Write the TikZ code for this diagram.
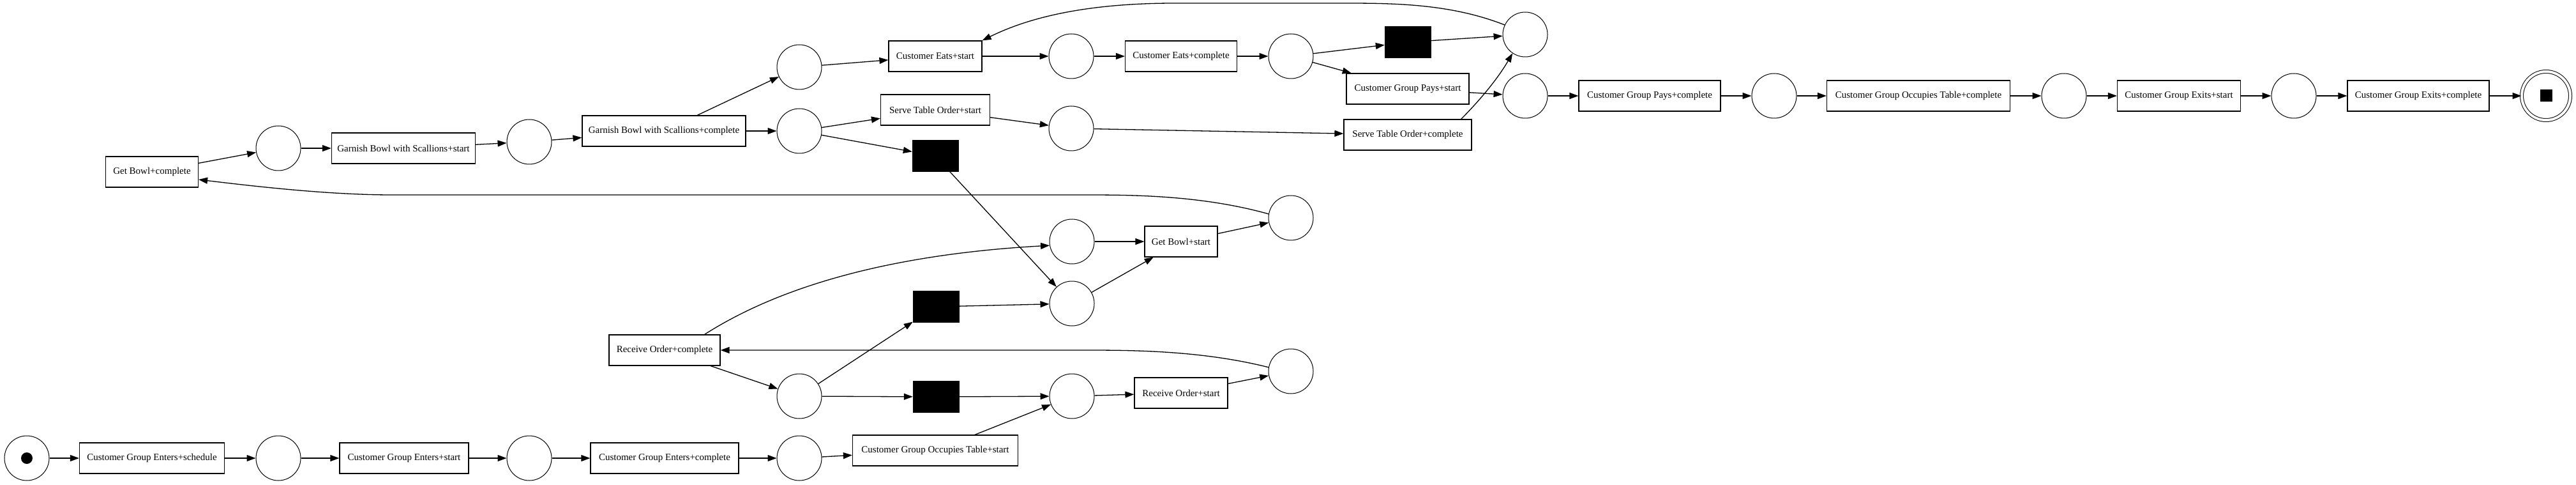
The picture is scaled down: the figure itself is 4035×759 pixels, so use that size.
\documentclass[tikz,border=0pt]{standalone}
\usepackage{fontspec}
\setmainfont{Liberation Serif}
\usetikzlibrary{arrows.meta,calc}
\begin{document}
\begin{tikzpicture}[x=1pt,y=-1pt]
\tikzset{
  place/.style={circle, draw, line width=1pt, minimum size=70pt, inner sep=0pt},
  trans/.style={rectangle, draw, line width=1.2pt, minimum height=48pt, inner sep=0pt, font=\fontsize{15}{18}\selectfont},
  tau/.style={rectangle, fill=black, draw=black, minimum width=72pt, minimum height=49pt, inner sep=0pt},
  arc/.style={-{Triangle[length=14pt,width=10pt]}, line width=1.3pt},
}
\fill[white] (0,0) rectangle (4035,759);
\useasboundingbox (0,0) rectangle (4035,759);

\node[place] (p0) at (42,717) {};
\node[trans, minimum width=227pt] (cges) at (238,717) {Customer Group Enters+schedule};
\node[place] (p1) at (436,717) {};
\node[trans, minimum width=202pt] (cgest) at (633,717) {Customer Group Enters+start};
\node[place] (p2) at (829,717) {};
\node[trans, minimum width=232pt] (cgec) at (1041,717) {Customer Group Enters+complete};
\node[place] (p3) at (1252,717) {};
\node[trans, minimum width=259pt] (cgots) at (1465,705) {Customer Group Occupies Table+start};
\node[place] (p4) at (1679,620) {};
\node[trans, minimum width=146pt] (ros) at (1850,615) {Receive Order+start};
\node[place] (p5) at (2022,581) {};
\node[trans, minimum width=174pt] (roc) at (1041,548) {Receive Order+complete};
\node[place] (p6) at (1252,620) {};
\node[tau] (t1) at (1466,621) {};
\node[tau] (t2) at (1466,480) {};
\node[place] (p7) at (1679,475) {};
\node[place] (p8) at (1679,378) {};
\node[trans, minimum width=114pt] (gbs) at (1850,378) {Get Bowl+start};
\node[place] (p9) at (2022,341) {};
\node[trans, minimum width=145pt] (gbc) at (238,269) {Get Bowl+complete};
\node[place] (p10) at (436,232) {};
\node[trans, minimum width=225pt] (gas) at (632,232) {Garnish Bowl with Scallions+start};
\node[place] (p11) at (829,222) {};
\node[trans, minimum width=256pt] (gac) at (1040,205) {Garnish Bowl with Scallions+complete};
\node[place] (p12) at (1252,205) {};
\node[place] (p13) at (1252,105) {};
\node[trans, minimum width=171pt] (stos) at (1465,172) {Serve Table Order+start};
\node[tau] (t3) at (1465,244) {};
\node[place] (p14) at (1678,201) {};
\node[trans, minimum width=200pt] (stoc) at (2205,211) {Serve Table Order+complete};
\node[trans, minimum width=146pt] (ces) at (1465,88) {Customer Eats+start};
\node[place] (p15) at (1678,88) {};
\node[trans, minimum width=175pt] (cec) at (1850,88) {Customer Eats+complete};
\node[place] (p16) at (2022,88) {};
\node[tau] (t4) at (2205,66) {};
\node[trans, minimum width=192pt] (cgps) at (2205,139) {Customer Group Pays+start};
\node[place] (p17) at (2389,54) {};
\node[place] (p18) at (2389,150) {};
\node[trans, minimum width=222pt] (cgpc) at (2584,150) {Customer Group Pays+complete};
\node[place] (p19) at (2779,150) {};
\node[trans, minimum width=287pt] (cgotc) at (3005,150) {Customer Group Occupies Table+complete};
\node[place] (p20) at (3233,150) {};
\node[trans, minimum width=193pt] (cgxs) at (3413,150) {Customer Group Exits+start};
\node[place] (p21) at (3593,150) {};
\node[trans, minimum width=222pt] (cgxc) at (3788,150) {Customer Group Exits+complete};
\node[place, double, double distance=4pt, minimum size=76pt] (pend) at (3988,150) {};

% tokens
\fill (p0) circle[radius=9pt];
\fill ($(pend)+(-9.5,-9.5)$) rectangle ++(19,19);

% arcs
\draw[arc] (p0) -- (cges);
\draw[arc] (cges) -- (p1);
\draw[arc] (p1) -- (cgest);
\draw[arc] (cgest) -- (p2);
\draw[arc] (p2) -- (cgec);
\draw[arc] (cgec) -- (p3);
\draw[arc] (p3) -- (cgots);
\draw[arc] (cgots) -- (p4);
\draw[arc] (p4) -- (ros);
\draw[arc] (ros) -- (p5);
\draw[arc] (p5.170) .. controls (1880,548) and (1770,548) .. (1696,548) -- (roc.east);
\draw[arc] (roc) -- (p6);
\draw[arc] ($(roc.north east)+(-25,0)$) .. controls (1250,430) and (1450,395) .. (p8.190);
\draw[arc] (p6) -- (t2);
\draw[arc] (p6) -- (t1);
\draw[arc] (t1) -- (p4);
\draw[arc] (t2) -- (p7);
\draw[arc] (p7) -- (gbs);
\draw[arc] (p8) -- (gbs);
\draw[arc] (gbs) -- (p9);
\draw[arc] (p9.170) .. controls (1880,305) and (1770,305) .. (1696,305) -- (614,305) .. controls (520,305) and (410,293) .. ($(gbc.east)+(0,12)$);
\draw[arc] (gbc) -- (p10);
\draw[arc] (p10) -- (gas);
\draw[arc] (gas) -- (p11);
\draw[arc] (p11) -- (gac);
\draw[arc] (gac) -- (p12);
\draw[arc] (gac) -- (p13);
\draw[arc] (p12) -- (stos);
\draw[arc] (p12) -- (t3);
\draw[arc] (t3) -- (p7);
\draw[arc] (stos) -- (p14);
\draw[arc] (p14) -- (stoc);
\draw[arc] ($(stoc.north east)+(-17,0)$) .. controls (2315,160) and (2345,125) .. (p17.236);
\draw[arc] (p13) -- (ces);
\draw[arc] (ces) -- (p15);
\draw[arc] (p15) -- (cec);
\draw[arc] (cec) -- (p16);
\draw[arc] (p16) -- (t4);
\draw[arc] (p16) -- (cgps);
\draw[arc] (t4) -- (p17);
\draw[arc] (p17.155) .. controls (2270,5) and (2180,5) .. (2100,5) -- (1840,5) .. controls (1700,5) and (1610,28) .. (ces.north east);
\draw[arc] (cgps) -- (p18);
\draw[arc] (p18) -- (cgpc);
\draw[arc] (cgpc) -- (p19);
\draw[arc] (p19) -- (cgotc);
\draw[arc] (cgotc) -- (p20);
\draw[arc] (p20) -- (cgxs);
\draw[arc] (cgxs) -- (p21);
\draw[arc] (p21) -- (cgxc);
\draw[arc] (cgxc) -- (pend);
\end{tikzpicture}
\end{document}
